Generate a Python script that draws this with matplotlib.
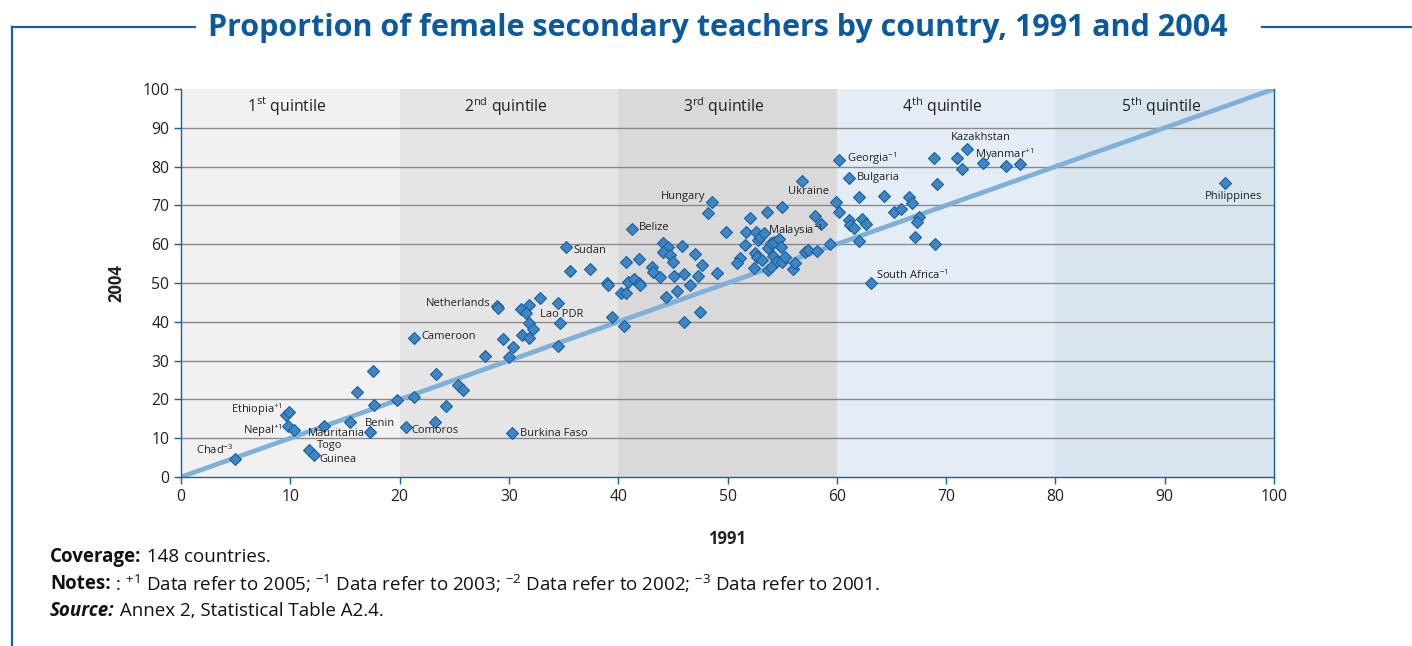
import matplotlib
matplotlib.use("Agg")
import matplotlib.pyplot as plt

plt.rcParams['font.family'] = ['Open Sans', 'DejaVu Sans']
plt.rcParams['mathtext.fontset'] = 'custom'
plt.rcParams['mathtext.rm'] = 'Open Sans'
plt.rcParams['mathtext.it'] = 'Open Sans:italic'
plt.rcParams['mathtext.bf'] = 'Open Sans:bold'

# ---- data: (1991, 2004) share of female secondary teachers ----
x1991 = [17.6, 16.1, 23.3, 25.3, 25.8, 21.3, 19.8, 17.7, 24.2, 9.6, 9.9, 9.8, 10.3, 13.1, 15.5, 17.3,
         23.2, 20.6, 11.7, 12.2, 4.9, 21.3, 30.3,
         35.2, 35.6, 37.4, 39.0, 39.1, 40.7, 28.9, 29.0, 31.1, 31.8, 31.6, 32.8, 34.5, 31.8, 32.2,
         34.7, 31.2, 31.8, 29.5, 30.4, 27.8, 30.0, 34.5, 39.4, 40.5, 40.3, 40.7,
         41.9, 41.3, 40.9, 41.4, 41.9, 42.0, 43.1, 43.2, 43.8, 44.1, 44.6, 44.1, 44.7, 45.0, 45.8,
         45.1, 46.0, 45.4, 44.4, 47.0, 47.7, 47.3, 46.6, 49.0, 46.0, 47.5, 48.6, 48.2, 49.9, 52.1,
         53.6, 55.0, 51.7, 51.6, 52.6, 52.8, 53.0, 53.3, 52.5, 52.7, 53.2, 51.1, 50.9, 52.4, 53.7,
         54.0, 54.3, 54.7, 54.9, 54.2, 54.4, 55.0, 55.3, 53.7, 54.0, 56.0, 56.2, 57.1, 57.4, 58.2,
         59.4, 58.0, 58.6, 56.8, 59.9, 60.2,
         60.2, 61.1, 62.0, 64.3, 61.1, 61.2, 61.6, 62.3, 62.7, 62.0, 65.2, 65.9, 66.6, 66.9, 67.5,
         67.3, 67.2, 69.0, 68.9, 69.2, 71.0, 71.9, 71.5, 73.4, 75.5, 76.8, 63.1, 95.5]
y2004 = [27.4, 22.0, 26.5, 23.7, 22.4, 20.7, 19.8, 18.6, 18.4, 16.0, 16.8, 13.1, 12.1, 13.2, 14.3, 11.5,
         14.3, 13.0, 7.0, 5.7, 4.6, 35.8, 11.3,
         59.4, 53.2, 53.5, 49.9, 49.5, 55.3, 44.1, 43.6, 43.2, 44.3, 42.2, 46.1, 44.9, 39.8, 38.1,
         39.8, 36.6, 35.7, 35.6, 33.4, 31.2, 31.0, 33.8, 41.2, 38.9, 47.3, 47.5,
         56.1, 63.9, 50.3, 51.0, 49.9, 49.5, 54.2, 52.9, 51.5, 60.2, 59.4, 58.1, 57.2, 55.5, 59.5,
         51.8, 52.3, 48.0, 46.3, 57.6, 54.6, 51.9, 49.5, 52.7, 39.9, 42.6, 71.0, 68.0, 63.1, 66.8,
         68.2, 69.7, 63.1, 59.8, 63.1, 61.1, 61.9, 62.8, 57.7, 56.8, 55.9, 56.4, 55.1, 53.8, 58.9,
         60.4, 60.6, 61.3, 59.4, 57.0, 55.5, 55.5, 56.6, 53.4, 54.2, 53.5, 55.2, 58.1, 58.5, 58.2,
         60.0, 67.3, 65.1, 76.3, 70.8, 68.4,
         81.7, 77.0, 72.1, 72.3, 66.2, 64.9, 64.3, 66.4, 65.2, 60.9, 68.4, 69.0, 72.1, 70.5, 66.9,
         65.8, 61.9, 60.1, 82.1, 75.5, 82.1, 84.5, 79.3, 80.8, 80.2, 80.6, 50.1, 75.8]

# country labels: text, x, y, horizontal alignment
label_text = ["Ethiopia$^{+1}$", "Nepal$^{+1}$", "Chad$^{-3}$", "Mauritania", "Togo", "Guinea", "Benin",
              "Comoros", "Burkina Faso", "Cameroon", "Netherlands", "Lao PDR", "Sudan", "Belize",
              "Hungary", "Ukraine", "Malaysia$^{-1}$", "Georgia$^{-1}$", "Bulgaria", "South Africa$^{-1}$",
              "Kazakhstan", "Myanmar$^{+1}$", "Philippines"]
label_x = [9.3, 9.3, 4.8, 11.6, 12.4, 12.7, 16.8, 21.1, 31.0, 22.0, 28.3, 32.8, 35.9, 41.9,
           48.0, 55.5, 53.7, 60.9, 61.8, 63.6, 70.4, 72.6, 96.3]
label_y = [17.3, 11.9, 7.0, 11.3, 8.0, 4.6, 13.9, 12.1, 11.3, 36.1, 44.8, 42.0, 58.5, 64.2,
           72.4, 73.7, 63.4, 82.0, 77.1, 52.1, 87.4, 83.2, 72.4]
label_ha = ["right", "right", "right", "left", "left", "left", "left", "left", "left", "left",
            "right", "left", "left", "left", "right", "left", "left", "left", "left", "left",
            "left", "left", "center"]

quintile_labels = ["1$^{\\mathrm{st}}$ quintile", "2$^{\\mathrm{nd}}$ quintile", "3$^{\\mathrm{rd}}$ quintile",
                   "4$^{\\mathrm{th}}$ quintile", "5$^{\\mathrm{th}}$ quintile"]
quintile_edges = [0, 20, 40, 60, 80, 100]
band_colors = ["#f1f1f1", "#e5e5e5", "#d9d9d9", "#e4edf5", "#d8e5ef"]

BLUE = "#1660a8"

fig = plt.figure(figsize=(14.12, 6.46), dpi=100)
ax = fig.add_axes([181/1412, 1-477/646, (1274-181)/1412, (477-89)/646])

for i in range(5):
    ax.axvspan(quintile_edges[i], quintile_edges[i+1], color=band_colors[i], zorder=0, lw=0)
    ax.text((quintile_edges[i] + quintile_edges[i+1]) / 2 - 0.3, 95.5, quintile_labels[i],
            ha="center", va="center", fontsize=11.3, color="#222222", zorder=3)

for g in range(10, 100, 10):
    ax.axhline(g, color="#8a8a8a", lw=1.0, zorder=1)

ax.plot([0, 100], [0, 100], color="#7fb0d8", lw=3.4, zorder=2, solid_capstyle="butt")
ax.plot(x1991, y2004, ls="none", marker="D", markersize=5.8, markerfacecolor="#3c86c6",
        markeredgecolor="#1d5e9c", markeredgewidth=0.8, zorder=4, clip_on=False)

for t, lx, ly, ha in zip(label_text, label_x, label_y, label_ha):
    ax.text(lx, ly, t, ha=ha, va="center", fontsize=8, color="#222222", zorder=5)

ax.set_xlim(0, 100)
ax.set_ylim(0, 100)
ax.set_xticks(range(0, 101, 10))
ax.set_yticks(range(0, 101, 10))
ax.tick_params(axis="both", colors=BLUE, labelcolor="#222222", labelsize=11.3, length=5, width=1,
               direction="out")
for s in ["left", "right", "bottom"]:
    ax.spines[s].set_color(BLUE)
    ax.spines[s].set_linewidth(1.0)
ax.spines["top"].set_visible(False)

ax.set_xlabel("1991", fontsize=12, fontweight="bold", color="#222222", labelpad=18)
ax.set_ylabel("2004", fontsize=12, fontweight="bold", color="#222222", labelpad=12)

# title and frame
fig.text(718/1412, 1-28/646, "Proportion of female secondary teachers by country, 1991 and 2004",
         ha="center", va="center", fontsize=22, fontweight="bold", color="#0b5aa0")
fig.add_artist(plt.Line2D([12/1412, 195/1412], [1-27/646, 1-27/646], color=BLUE, lw=1.6))
fig.add_artist(plt.Line2D([1262/1412, 1.0], [1-27/646, 1-27/646], color=BLUE, lw=1.6))
fig.add_artist(plt.Line2D([12/1412, 12/1412], [1-27/646, 0], color=BLUE, lw=1.6))

# footer
fs = 13.5
t1 = fig.text(50/1412, 1-557/646, "Coverage:", fontsize=fs, fontweight="bold", va="center", color="#111111")
ax.annotate(" 148 countries.", xy=(1, 0.5), xycoords=t1, va="center", ha="left", fontsize=fs, color="#111111")
t2 = fig.text(50/1412, 1-584/646, "Notes:", fontsize=fs, fontweight="bold", va="center", color="#111111")
ax.annotate(" : $^{+1}$ Data refer to 2005; $^{-1}$ Data refer to 2003; $^{-2}$ Data refer to 2002; $^{-3}$ Data refer to 2001.",
            xy=(1, 0.5), xycoords=t2, va="center", ha="left", fontsize=fs, color="#111111")
t3 = fig.text(50/1412, 1-611/646, "Source:", fontsize=fs, fontweight="bold", fontstyle="italic",
              va="center", color="#111111")
ax.annotate(" Annex 2, Statistical Table A2.4.", xy=(1, 0.5), xycoords=t3, va="center", ha="left",
            fontsize=fs, color="#111111")

fig.savefig("out.png", dpi=100)
